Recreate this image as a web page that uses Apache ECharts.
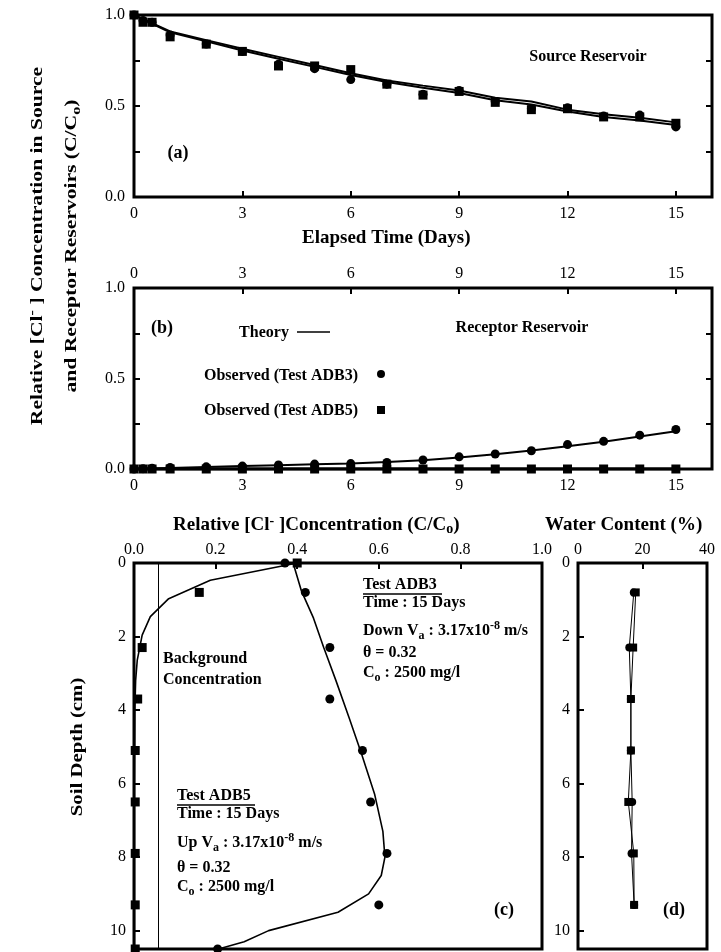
<!DOCTYPE html>
<html>
<head>
<meta charset="utf-8">
<script src="https://cdn.jsdelivr.net/npm/echarts/dist/echarts.min.js"></script>
<style>html,body{margin:0;padding:0;background:#fff;}#c{width:721px;height:952px;}</style>
</head>
<body>
<div id="c"></div>
<script>
// ---------- data ----------
const days = [0, 0.25, 0.5, 1, 2, 3, 4, 5, 6, 7, 8, 9, 10, 11, 12, 13, 14, 15];
const srcADB3 = [1.0, 0.97, 0.96, 0.89, 0.84, 0.80, 0.73, 0.705, 0.645, 0.62, 0.565, 0.585, 0.525, 0.485, 0.49, 0.445, 0.45, 0.385];
const srcADB5 = [1.0, 0.96, 0.96, 0.88, 0.84, 0.80, 0.72, 0.72, 0.70, 0.62, 0.56, 0.58, 0.52, 0.48, 0.485, 0.44, 0.44, 0.405];
const theoryDays = [0, 1, 2, 3, 4, 5, 6, 7, 8, 9, 10, 11, 12, 13, 14, 15];
const srcTheory3 = [1.0, 0.91, 0.862, 0.815, 0.77, 0.725, 0.68, 0.64, 0.612, 0.585, 0.545, 0.525, 0.48, 0.455, 0.435, 0.41];
const srcTheory5 = [1.0, 0.905, 0.855, 0.805, 0.76, 0.715, 0.67, 0.632, 0.60, 0.572, 0.532, 0.508, 0.47, 0.44, 0.42, 0.395];
const recADB3 = [0, 0.002, 0.004, 0.008, 0.012, 0.016, 0.022, 0.027, 0.03, 0.036, 0.05, 0.067, 0.083, 0.101, 0.135, 0.153, 0.187, 0.218];
const recADB5 = [0, 0, 0, 0, 0, 0, 0, 0, 0, 0, 0, 0, 0, 0, 0, 0, 0, 0];
const recTheory3 = [0, 0.006, 0.011, 0.016, 0.021, 0.026, 0.031, 0.038, 0.048, 0.064, 0.082, 0.102, 0.126, 0.151, 0.179, 0.208];
const recTheory5 = [0, 0, 0, 0, 0, 0, 0, 0, 0, 0, 0, 0, 0, 0, 0, 0];
const depthObs = [0, 0.8, 2.3, 3.7, 5.1, 6.5, 7.9, 9.3, 10.5];
const profADB3 = [0.37, 0.42, 0.48, 0.48, 0.56, 0.58, 0.62, 0.60, 0.205];
const profADB5 = [0.40, 0.16, 0.02, 0.009, 0.003, 0.003, 0.003, 0.003, 0.003];
const thDepth3 = [0, 0.75, 1.5, 2.3, 3.2, 4.2, 5.2, 6.3, 7.3, 8.0, 8.5, 9.0, 9.5, 10.0, 10.3, 10.5];
const thConc3 = [0.39, 0.41, 0.44, 0.465, 0.495, 0.527, 0.558, 0.59, 0.61, 0.615, 0.606, 0.575, 0.50, 0.33, 0.27, 0.207];
const thDepth5 = [0, 0.47, 0.97, 1.46, 1.96, 2.64, 3.2, 4, 6, 8, 10.5];
const thConc5 = [0.40, 0.187, 0.085, 0.04, 0.02, 0.008, 0.004, 0.002, 0.001, 0.001, 0.001];
const backgroundConc = 0.06;
const wcDepth = [0.8, 2.3, 3.7, 5.1, 6.5, 7.9, 9.3];
const wcADB3 = [17.3, 15.9, 16.4, 16.4, 16.8, 16.6, 17.4];
const wcADB5 = [17.9, 17.1, 16.4, 16.4, 15.6, 17.3, 17.4];
const dayTicks = [0, 3, 6, 9, 12, 15];

// ---------- helpers ----------
const F = 'Liberation Serif';
const TL = 6; // tick length; axes are shifted inside the frame so ticks point inward
const zip = (a, b) => a.map((v, i) => [v, b[i]]);
const lab = (extra) => Object.assign({fontFamily: F, fontSize: 16, color: '#000'}, extra || {});
const tick = () => ({show: true, length: TL, lineStyle: {color: '#000', width: 2}});
const noLine = () => ({show: false, onZero: false});
const noSplit = {show: false};
const dayFmt = v => (dayTicks.indexOf(v) >= 0 ? String(v) : '');
const halfFmt = v => (Math.abs(v * 2 - Math.round(v * 2)) < 1e-6 ? v.toFixed(1) : '');
const depthFmt = v => (Math.abs(v - Math.round(v)) < 1e-6 && Math.round(v) % 2 === 0 ? String(Math.round(v)) : '');
const dot = {color: '#000', opacity: 1};

const rich = {
  sub: {fontFamily: F, fontWeight: 'bold', fontSize: 12, verticalAlign: 'bottom', lineHeight: 12},
  sup: {fontFamily: F, fontWeight: 'bold', fontSize: 12, verticalAlign: 'top', lineHeight: 12},
  bsub: {fontFamily: F, fontWeight: 'bold', fontSize: 14, verticalAlign: 'bottom', lineHeight: 13},
  bsup: {fontFamily: F, fontWeight: 'bold', fontSize: 14, verticalAlign: 'top', lineHeight: 13}
};
function txt(x, y, text, opts) {
  opts = opts || {};
  return {
    type: 'text', x: x, y: y, rotation: opts.rotation || 0, scaleX: opts.scaleX || 1, scaleY: opts.scaleY || 1, z: 50,
    style: {
      text: text, fill: '#000', fontFamily: F, fontWeight: opts.weight || 'bold', fontSize: opts.size || 16,
      align: opts.align || 'left', verticalAlign: 'middle', lineHeight: opts.lh || 22, rich: rich
    }
  };
}
function hline(x1, x2, y, w) {
  return {type: 'line', z: 50, shape: {x1: x1, y1: y, x2: x2, y2: y}, style: {stroke: '#000', lineWidth: w || 1.5}};
}

const grid = (l, t, w, h) => ({left: l, top: t, width: w, height: h, show: true, borderColor: '#000', borderWidth: 3, backgroundColor: 'transparent'});

const option = {
  backgroundColor: '#fff',
  animation: false,
  grid: [
    grid(134, 15, 578, 182),
    grid(134, 288, 578, 181),
    grid(134, 563, 408, 386),
    grid(578, 563, 129, 386)
  ],
  xAxis: [
    {gridIndex: 0, type: 'value', position: 'bottom', offset: -TL, min: 0, max: 16, interval: 3, axisLine: noLine(), axisTick: tick(), splitLine: noSplit, axisLabel: lab({margin: 9 + TL, formatter: dayFmt, showMaxLabel: false})},
    {gridIndex: 1, type: 'value', position: 'top', offset: -TL, min: 0, max: 16, interval: 3, axisLine: noLine(), axisTick: tick(), splitLine: noSplit, axisLabel: lab({margin: 6 + TL, formatter: dayFmt, showMaxLabel: false})},
    {gridIndex: 1, type: 'value', position: 'bottom', min: 0, max: 16, interval: 3, axisLine: noLine(), axisTick: {show: false}, splitLine: noSplit, axisLabel: lab({margin: 9, formatter: dayFmt, showMaxLabel: false})},
    {gridIndex: 2, type: 'value', position: 'top', offset: -TL, min: 0, max: 1, interval: 0.2, axisLine: noLine(), axisTick: tick(), splitLine: noSplit, axisLabel: lab({margin: 5 + TL, formatter: v => v.toFixed(1)})},
    {gridIndex: 3, type: 'value', position: 'top', offset: -TL, min: 0, max: 40, interval: 20, axisLine: noLine(), axisTick: tick(), splitLine: noSplit, axisLabel: lab({margin: 5 + TL})}
  ],
  yAxis: [
    {gridIndex: 0, type: 'value', position: 'left', offset: -TL, min: 0, max: 1, interval: 0.25, axisLine: noLine(), axisTick: tick(), splitLine: noSplit, axisLabel: lab({margin: 9 + TL, formatter: halfFmt})},
    {gridIndex: 0, type: 'value', position: 'right', offset: -TL, min: 0, max: 1, interval: 0.25, axisLine: noLine(), axisTick: tick(), splitLine: noSplit, axisLabel: {show: false}},
    {gridIndex: 1, type: 'value', position: 'left', offset: -TL, min: 0, max: 1, interval: 0.25, axisLine: noLine(), axisTick: tick(), splitLine: noSplit, axisLabel: lab({margin: 9 + TL, formatter: halfFmt})},
    {gridIndex: 1, type: 'value', position: 'right', offset: -TL, min: 0, max: 1, interval: 0.25, axisLine: noLine(), axisTick: tick(), splitLine: noSplit, axisLabel: {show: false}},
    {gridIndex: 2, type: 'value', inverse: true, offset: -TL, min: 0, max: 10.5, interval: 2, axisLine: noLine(), axisTick: tick(), splitLine: noSplit, axisLabel: lab({margin: 8 + TL, formatter: depthFmt})},
    {gridIndex: 3, type: 'value', inverse: true, offset: -TL, min: 0, max: 10.5, interval: 2, axisLine: noLine(), axisTick: tick(), splitLine: noSplit, axisLabel: lab({margin: 8 + TL, formatter: depthFmt})}
  ],
  series: [
    // (a) source reservoir
    {name: 'Theory ADB3 (source)', type: 'line', xAxisIndex: 0, yAxisIndex: 0, data: zip(theoryDays, srcTheory3), showSymbol: false, lineStyle: {color: '#000', width: 2}, z: 3},
    {name: 'Theory ADB5 (source)', type: 'line', xAxisIndex: 0, yAxisIndex: 0, data: zip(theoryDays, srcTheory5), showSymbol: false, lineStyle: {color: '#000', width: 2}, z: 3},
    {name: 'Observed ADB3 (source)', type: 'scatter', xAxisIndex: 0, yAxisIndex: 0, data: zip(days, srcADB3), symbol: 'circle', symbolSize: 9, itemStyle: dot, z: 5},
    {name: 'Observed ADB5 (source)', type: 'scatter', xAxisIndex: 0, yAxisIndex: 0, data: zip(days, srcADB5), symbol: 'rect', symbolSize: 9, itemStyle: dot, z: 5},
    // (b) receptor reservoir
    {name: 'Theory ADB3 (receptor)', type: 'line', xAxisIndex: 1, yAxisIndex: 2, data: zip(theoryDays, recTheory3), showSymbol: false, lineStyle: {color: '#000', width: 2}, z: 3},
    {name: 'Theory ADB5 (receptor)', type: 'line', xAxisIndex: 1, yAxisIndex: 2, data: zip(theoryDays, recTheory5), showSymbol: false, lineStyle: {color: '#000', width: 3}, z: 3},
    {name: 'Observed ADB3 (receptor)', type: 'scatter', xAxisIndex: 1, yAxisIndex: 2, data: zip(days, recADB3), symbol: 'circle', symbolSize: 9, itemStyle: dot, z: 5},
    {name: 'Observed ADB5 (receptor)', type: 'scatter', xAxisIndex: 1, yAxisIndex: 2, data: zip(days, recADB5), symbol: 'rect', symbolSize: 9, itemStyle: dot, z: 5},
    // (c) concentration profiles
    {name: 'Theory ADB3 (profile)', type: 'line', xAxisIndex: 3, yAxisIndex: 4, data: zip(thConc3, thDepth3), showSymbol: false, lineStyle: {color: '#000', width: 1.6}, z: 3,
      markLine: {silent: true, symbol: 'none', label: {show: false}, lineStyle: {color: '#000', width: 1, type: 'solid'}, data: [{xAxis: backgroundConc}]}},
    {name: 'Theory ADB5 (profile)', type: 'line', xAxisIndex: 3, yAxisIndex: 4, data: zip(thConc5, thDepth5), showSymbol: false, lineStyle: {color: '#000', width: 1.6}, z: 3},
    {name: 'Observed ADB3 (profile)', type: 'scatter', xAxisIndex: 3, yAxisIndex: 4, data: zip(profADB3, depthObs), symbol: 'circle', symbolSize: 9, itemStyle: dot, z: 5},
    {name: 'Observed ADB5 (profile)', type: 'scatter', xAxisIndex: 3, yAxisIndex: 4, data: zip(profADB5, depthObs), symbol: 'rect', symbolSize: 9, itemStyle: dot, z: 5},
    // (d) water content
    {name: 'Water content ADB3', type: 'line', xAxisIndex: 4, yAxisIndex: 5, data: zip(wcADB3, wcDepth), symbol: 'circle', symbolSize: 8, itemStyle: dot, lineStyle: {color: '#000', width: 1}, z: 4},
    {name: 'Water content ADB5', type: 'line', xAxisIndex: 4, yAxisIndex: 5, data: zip(wcADB5, wcDepth), symbol: 'rect', symbolSize: 8, itemStyle: dot, lineStyle: {color: '#000', width: 1}, z: 4}
  ],
  graphic: [
    // left axis titles
    txt(38, 246, 'Relative [Cl{sup|-} ] Concentration in Source', {rotation: Math.PI / 2, align: 'center', size: 16, scaleX: 1.35}),
    txt(72, 246, 'and Receptor Reservoirs (C/C{sub|o})', {rotation: Math.PI / 2, align: 'center', size: 16, scaleX: 1.35}),
    txt(78, 747, 'Soil Depth (cm)', {rotation: Math.PI / 2, align: 'center', size: 16, scaleX: 1.3}),
    // panel (a)
    txt(178, 153, '(a)', {align: 'center', size: 18}),
    txt(588, 57, 'Source Reservoir', {align: 'center', size: 16}),
    txt(302, 238, 'Elapsed Time (Days)', {size: 19}),
    // panel (b)
    txt(162, 328, '(b)', {align: 'center', size: 18}),
    txt(522, 328, 'Receptor Reservoir', {align: 'center', size: 16}),
    txt(264, 333, 'Theory', {align: 'center', size: 16}),
    hline(297, 330, 332, 1.5),
    txt(281, 376, 'Observed (Test ADB3)', {align: 'center', size: 16}),
    {type: 'circle', z: 50, shape: {cx: 381, cy: 374, r: 4}, style: {fill: '#000'}},
    txt(281, 411, 'Observed (Test ADB5)', {align: 'center', size: 16}),
    {type: 'rect', z: 50, shape: {x: 377, y: 406, width: 8, height: 8}, style: {fill: '#000'}},
    // panel (c), (d) titles
    txt(173, 525, 'Relative [Cl{bsup|-} ]Concentration (C/C{bsub|o})', {size: 19}),
    txt(545, 525, 'Water Content (%)', {size: 19}),
    // Test ADB3 block
    txt(363, 585, 'Test ADB3', {size: 16}),
    hline(363, 442, 594, 1.5),
    txt(363, 603, 'Time : 15 Days', {size: 16}),
    txt(363, 631, 'Down V{sub|a} : 3.17x10{sup|-8} m/s', {size: 16}),
    txt(363, 653, 'θ = 0.32', {size: 16}),
    txt(363, 673, 'C{sub|o} : 2500 mg/l', {size: 16}),
    // Background
    txt(163, 659, 'Background', {size: 16}),
    txt(163, 680, 'Concentration', {size: 16}),
    // Test ADB5 block
    txt(177, 796, 'Test ADB5', {size: 16}),
    hline(177, 255, 805, 1.5),
    txt(177, 814, 'Time : 15 Days', {size: 16}),
    txt(177, 843, 'Up V{sub|a} : 3.17x10{sup|-8} m/s', {size: 16}),
    txt(177, 868, 'θ = 0.32', {size: 16}),
    txt(177, 887, 'C{sub|o} : 2500 mg/l', {size: 16}),
    txt(504, 910, '(c)', {align: 'center', size: 18}),
    txt(674, 910, '(d)', {align: 'center', size: 18})
  ]
};
const chart = echarts.init(document.getElementById('c'), null, {renderer: 'canvas'});
chart.setOption(option);
</script>
</body>
</html>
